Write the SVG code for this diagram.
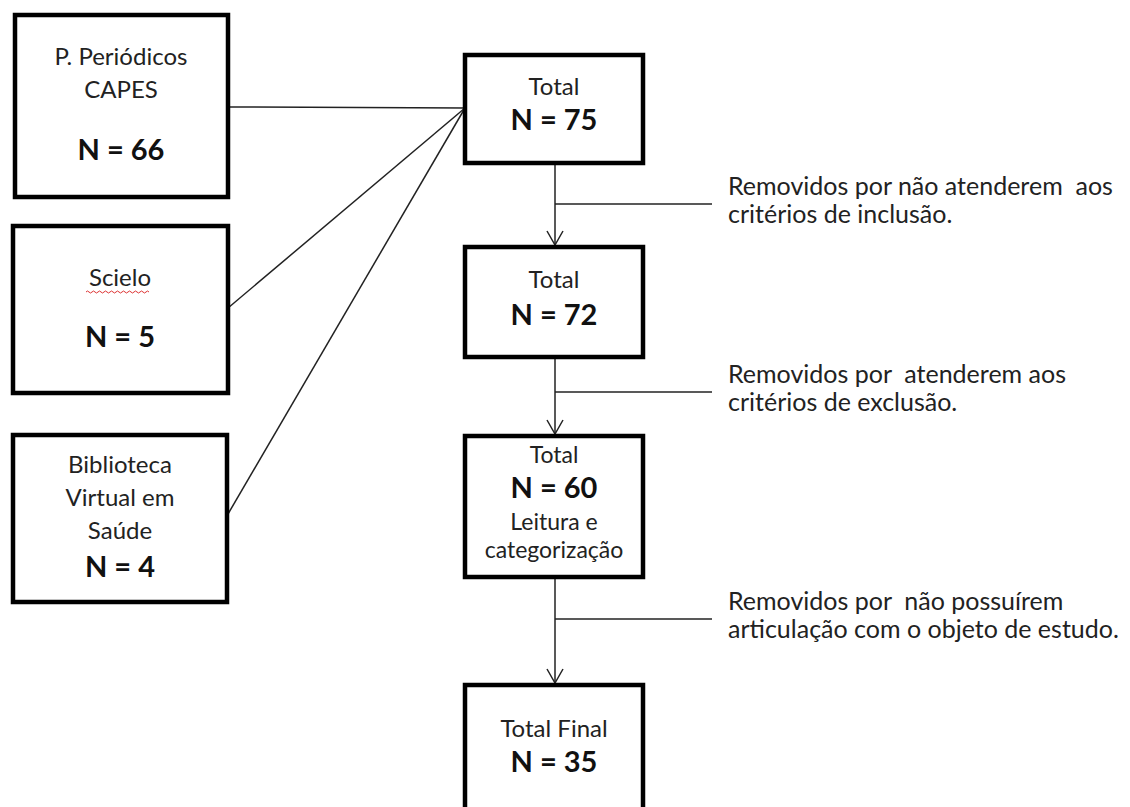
<svg xmlns="http://www.w3.org/2000/svg" width="1130" height="807" viewBox="0 0 1130 807">
<defs>
<style>
.box{fill:#fff;stroke:#000;stroke-width:4.5}
.t{font-family:Lato,"Open Sans","Liberation Sans",sans-serif;font-size:24px;fill:#222;text-anchor:middle}
.s{font-family:Lato,"Open Sans","Liberation Sans",sans-serif;font-size:23px;fill:#222;text-anchor:middle}
.b{font-family:Lato,"Open Sans","Liberation Sans",sans-serif;font-size:29px;font-weight:bold;fill:#111;text-anchor:middle}
.l{font-family:Lato,"Open Sans","Liberation Sans",sans-serif;font-size:25px;fill:#222;white-space:pre}
.c{stroke:#222;stroke-width:1.5;fill:none}
</style>
<marker id="ah" markerWidth="20" markerHeight="20" refX="15" refY="10" orient="auto" markerUnits="userSpaceOnUse" viewBox="0 0 20 20">
<path d="M1,2 L15,10 L1,18" fill="none" stroke="#222" stroke-width="1.5"/>
</marker>
</defs>
<rect width="1130" height="807" fill="#fff"/>
<g id="connectors">
<line class="c" x1="228" y1="107" x2="465" y2="108"/>
<line class="c" x1="228" y1="308" x2="465" y2="108"/>
<line class="c" x1="228" y1="514" x2="465" y2="108"/>
<line class="c" x1="555" y1="163" x2="555" y2="245" marker-end="url(#ah)"/>
<line class="c" x1="555" y1="204" x2="712" y2="204"/>
<line class="c" x1="555" y1="357" x2="555" y2="434" marker-end="url(#ah)"/>
<line class="c" x1="555" y1="392" x2="712" y2="392"/>
<line class="c" x1="555" y1="577" x2="555" y2="683" marker-end="url(#ah)"/>
<line class="c" x1="555" y1="619" x2="712" y2="619"/>
</g>
<g id="capes">
<rect class="box" x="15" y="15" width="213" height="182"/>
<text class="t" x="121" y="65">P. Periódicos</text>
<text class="t" x="121" y="98">CAPES</text>
<text class="b" x="121" y="160">N = 66</text>
</g>
<g id="scielo">
<rect class="box" x="13" y="226" width="215" height="167"/>
<text class="t" x="120" y="286">Scielo</text>
<path d="M86,292 q1.5,-2 3,0 t3,0 t3,0 t3,0 t3,0 t3,0 t3,0 t3,0 t3,0 t3,0 t3,0 t3,0 t3,0 t3,0 t3,0 t3,0 t3,0 t3,0 t3,0 t3,0 t3,0" fill="none" stroke="#d33" stroke-width="1"/>
<text class="b" x="120" y="347">N = 5</text>
</g>
<g id="bvs">
<rect class="box" x="13" y="435" width="214" height="167"/>
<text class="t" x="120" y="473">Biblioteca</text>
<text class="t" x="120" y="506">Virtual em</text>
<text class="t" x="120" y="539">Saúde</text>
<text class="b" x="120" y="577">N = 4</text>
</g>
<g id="total75">
<rect class="box" x="465" y="55" width="178" height="108"/>
<text class="t" x="554" y="95">Total</text>
<text class="b" x="554" y="130">N = 75</text>
</g>
<g id="total72">
<rect class="box" x="465" y="247" width="178" height="110"/>
<text class="t" x="554" y="288">Total</text>
<text class="b" x="554" y="325">N = 72</text>
</g>
<g id="total60">
<rect class="box" x="465" y="436" width="178" height="141"/>
<text class="s" x="554" y="463">Total</text>
<text class="b" x="554" y="498">N = 60</text>
<text class="s" x="554" y="530">Leitura e</text>
<text class="s" x="554" y="558">categorização</text>
</g>
<g id="total35">
<rect class="box" x="465" y="685" width="178" height="140"/>
<text class="t" x="554" y="737">Total Final</text>
<text class="b" x="554" y="772">N = 35</text>
</g>
<g id="labels">
<text class="l" x="728" y="195">Removidos por não atenderem  aos</text>
<text class="l" x="728" y="223">critérios de inclusão.</text>
<text class="l" x="728" y="383">Removidos por  atenderem aos</text>
<text class="l" x="728" y="411">critérios de exclusão.</text>
<text class="l" x="728" y="610">Removidos por  não possuírem</text>
<text class="l" x="728" y="638">articulação com o objeto de estudo.</text>
</g>
</svg>
